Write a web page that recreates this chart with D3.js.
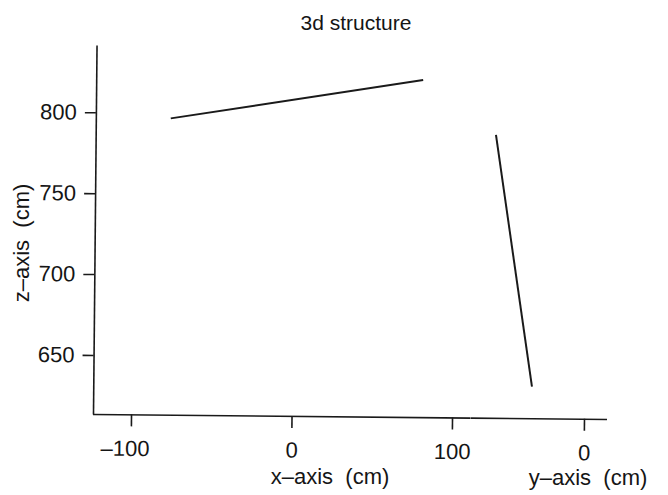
<!DOCTYPE html>
<html>
<head>
<meta charset="utf-8">
<script src="https://cdn.jsdelivr.net/npm/d3@7"></script>
<style>
  body { margin: 0; background: #fff; }
  text { font-family: "Liberation Sans", Arial, sans-serif; fill: #151515; }
</style>
</head>
<body>
<div id="chart"></div>
<script>
const width = 668;
const height = 495;

// tick values
const xTicks = [-100, 0, 100];
const yTicks = [0];
const zTicks = [650, 700, 750, 800];

// segment in the x-z plane
const segX = [-77, 80];
const segXZ = [796.7, 821.9];

// segment in the y-z plane
const segY = [-56.5, -32.6];
const segYZ = [788.4, 633];

const svg = d3.select("#chart")
  .append("svg")
  .attr("width", width)
  .attr("height", height);

// the scan is tilted a little, so rotate the plot around the corner
const g = svg.append("g")
  .attr("transform", "rotate(0.55, 93, 414)");

const xScale = d3.scaleLinear().domain([-124, 111]).range([92.5, 469.7]);
const yScale = d3.scaleLinear().domain([-71, 14]).range([470, 606.5]);
const zScale = d3.scaleLinear().domain([613.5, 841.6]).range([414, 45]);

const fmt = d => d < 0 ? "\u2013" + Math.abs(d) : String(d);

const xAxis = g.append("g")
  .attr("transform", "translate(0,414)")
  .call(d3.axisBottom(xScale).tickValues(xTicks).tickSize(12).tickSizeOuter(0).tickPadding(14).tickFormat(fmt));

const yAxis = g.append("g")
  .attr("transform", "translate(0,414)")
  .call(d3.axisBottom(yScale).tickValues(yTicks).tickSize(12).tickSizeOuter(0).tickPadding(14).tickFormat(fmt));

const zAxis = g.append("g")
  .attr("transform", "translate(93,0)")
  .call(d3.axisLeft(zScale).tickValues(zTicks).tickSize(11).tickSizeOuter(0).tickPadding(8));

[xAxis, yAxis, zAxis].forEach(a => {
  a.selectAll("path, line").attr("stroke", "#1a1a1a").attr("stroke-width", 1.6);
  a.selectAll("text")
    .attr("fill", "#151515")
    .style("font-size", "22px")
    .style("font-family", "'Liberation Sans', Arial, sans-serif");
});
// keep the digits centred under the tick, the minus hangs left
xAxis.selectAll("text").filter(d => d < 0).attr("dx", "-0.28em");

const line = d3.line();

g.append("path")
  .attr("d", line(segX.map((v, i) => [xScale(v), zScale(segXZ[i])])))
  .attr("fill", "none")
  .attr("stroke", "#1a1a1a")
  .attr("stroke-width", 2);

g.append("path")
  .attr("d", line(segY.map((v, i) => [yScale(v), zScale(segYZ[i])])))
  .attr("fill", "none")
  .attr("stroke", "#1a1a1a")
  .attr("stroke-width", 2);

svg.append("text")
  .attr("x", 356)
  .attr("y", 30)
  .attr("text-anchor", "middle")
  .style("font-size", "21px")
  .text("3d structure");

svg.append("text")
  .attr("x", 330)
  .attr("y", 484)
  .attr("text-anchor", "middle")
  .style("font-size", "22px")
  .style("white-space", "pre")
  .text("x\u2013axis  (cm)");

svg.append("text")
  .attr("x", 588)
  .attr("y", 485)
  .attr("text-anchor", "middle")
  .style("font-size", "22px")
  .style("white-space", "pre")
  .text("y\u2013axis  (cm)");

svg.append("text")
  .attr("transform", "translate(29,243) rotate(-90)")
  .attr("text-anchor", "middle")
  .style("font-size", "22px")
  .style("white-space", "pre")
  .text("z\u2013axis  (cm)");
</script>
</body>
</html>
